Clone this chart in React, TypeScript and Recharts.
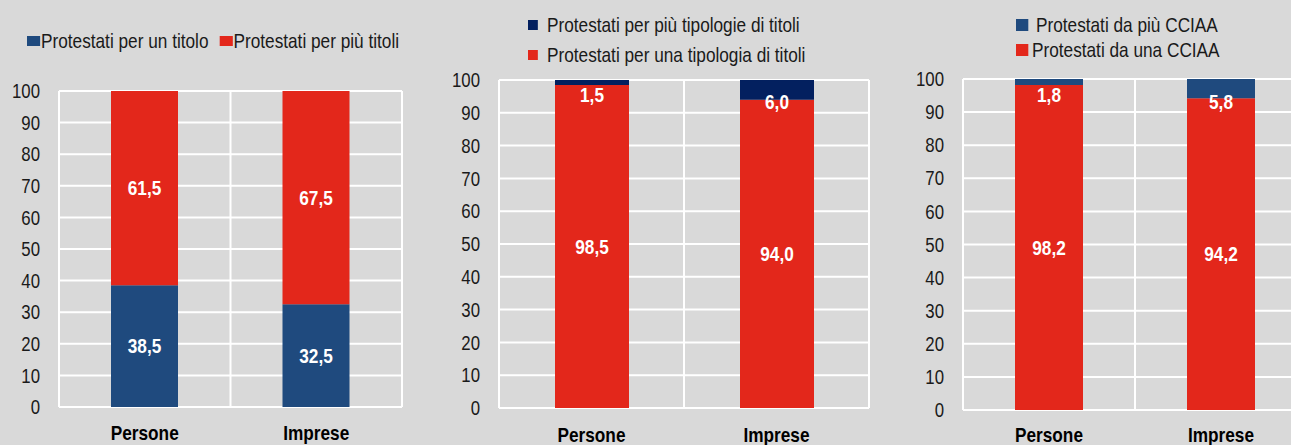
import { Bar, BarChart, CartesianGrid, LabelList, XAxis, YAxis } from "recharts";

const categories = ["Persone", "Imprese"];
const yTicks = [0, 10, 20, 30, 40, 50, 60, 70, 80, 90, 100];

// pannello 1: numero di titoli
const perUnTitolo = [38.5, 32.5];
const perPiuTitoli = [61.5, 67.5];
// pannello 2: tipologie di titoli
const perUnaTipologia = [98.5, 94.0];
const perPiuTipologie = [1.5, 6.0];
// pannello 3: camere di commercio
const daUnaCciaa = [98.2, 94.2];
const daPiuCciaa = [1.8, 5.8];

// niente Arial Narrow: Liberation Sans stretta in orizzontale
const FONT = "'Liberation Sans', Arial, sans-serif";
const NARROW = 0.82;
const RED = "#e3271b";
const BLUE = "#1f4a7e";
const NAVY = "#03205f";
const BG = "#d9d9d9";
const INK = "#1a1a1a";

const fmt = (v: number) => v.toFixed(1).replace(".", ",");

type Series = { key: string; name: string; color: string; values: number[]; shift: number };

function valueLabel(shift: number) {
  return (p: any) => {
    const { x, y, width, height, value } = p;
    const cx = Number(x) + Number(width) / 2;
    const cy = Number(y) + Number(height) / 2 + shift;
    return (
      <g transform={`translate(${cx},${cy}) scale(${NARROW},1)`}>
        <text
          textAnchor="middle"
          dominantBaseline="central"
          fill="#fff"
          fontWeight="bold"
          fontSize={21}
          fontFamily={FONT}
        >
          {fmt(Number(value))}
        </text>
      </g>
    );
  };
}

const YTick = ({ x, y, payload }: any) => (
  <g transform={`translate(${x},${y}) scale(${NARROW},1)`}>
    <text textAnchor="end" dominantBaseline="central" fontSize={20.5} fill={INK} fontFamily={FONT}>
      {payload.value}
    </text>
  </g>
);

const XTick = ({ x, y, payload }: any) => (
  <g transform={`translate(${x},${y}) scale(${NARROW},1)`}>
    <text textAnchor="middle" dy="0.71em" fontSize={21} fontWeight="bold" fill="#000" fontFamily={FONT}>
      {payload.value}
    </text>
  </g>
);

function Panel({
  left,
  width,
  margin,
  barSize,
  xGap,
  series,
}: {
  left: number;
  width: number;
  margin: { top: number; right: number; bottom: number; left: number };
  barSize: number;
  xGap: number;
  series: Series[];
}) {
  const data = categories.map((c, i) => {
    const row: Record<string, string | number> = { name: c };
    series.forEach((s) => (row[s.key] = s.values[i]));
    return row;
  });

  return (
    <div style={{ position: "absolute", left, top: 0 }}>
      <BarChart width={width} height={445} data={data} margin={margin} barSize={barSize}>
        <CartesianGrid
          stroke="#ffffff"
          strokeWidth={2}
          verticalCoordinatesGenerator={({ offset }: any) => [
            offset.left,
            offset.left + offset.width / 2,
            offset.left + offset.width,
          ]}
        />
        <XAxis
          dataKey="name"
          axisLine={false}
          tickLine={false}
          tickSize={0}
          tickMargin={xGap}
          height={30}
          tick={<XTick />}
        />
        <YAxis
          domain={[0, 100]}
          ticks={yTicks}
          interval={0}
          axisLine={false}
          tickLine={false}
          tickSize={0}
          tickMargin={19}
          width={45}
          tick={<YTick />}
        />
        {series.map((s) => (
          <Bar key={s.key} dataKey={s.key} name={s.name} stackId="s" fill={s.color} isAnimationActive={false}>
            <LabelList dataKey={s.key} content={valueLabel(s.shift)} />
          </Bar>
        ))}
      </BarChart>
    </div>
  );
}

// le misure orizzontali sono divise per NARROW perché tutta la legenda viene compressa
function LegendItem({ color, label, box, gap }: { color: string; label: string; box: [number, number]; gap: number }) {
  return (
    <div style={{ display: "flex", alignItems: "center" }}>
      <span
        style={{
          display: "inline-block",
          width: box[0] / NARROW,
          height: box[1],
          background: color,
          marginRight: gap / NARROW,
        }}
      />
      <span>{label}</span>
    </div>
  );
}

const legendText = {
  position: "absolute" as const,
  fontFamily: FONT,
  fontSize: 21,
  color: INK,
  whiteSpace: "nowrap" as const,
  transform: `scaleX(${NARROW})`,
  transformOrigin: "left top",
};

export default function App() {
  return (
    <div
      style={{
        position: "fixed",
        left: 0,
        top: 0,
        width: 1291,
        height: 445,
        background: BG,
        overflow: "hidden",
        fontFamily: FONT,
      }}
    >
      <Panel
        left={0}
        width={430}
        margin={{ top: 91, right: 28, bottom: 8, left: 14 }}
        barSize={67}
        xGap={18}
        series={[
          { key: "un", name: "Protestati per un titolo", color: BLUE, values: perUnTitolo, shift: 0 },
          { key: "piu", name: "Protestati per più titoli", color: RED, values: perPiuTitoli, shift: 0 },
        ]}
      />
      <Panel
        left={430}
        width={440}
        margin={{ top: 80, right: 1, bottom: 7, left: 24 }}
        barSize={74}
        xGap={19}
        series={[
          { key: "una", name: "Protestati per una tipologia di titoli", color: RED, values: perUnaTipologia, shift: 0 },
          { key: "piu", name: "Protestati per più tipologie di titoli", color: NAVY, values: perPiuTipologie, shift: 12 },
        ]}
      />
      <Panel
        left={870}
        width={440}
        margin={{ top: 79, right: 3, bottom: 5, left: 48 }}
        barSize={68}
        xGap={17}
        series={[
          { key: "una", name: "Protestati da una CCIAA", color: RED, values: daUnaCciaa, shift: 0 },
          { key: "piu", name: "Protestati da più CCIAA", color: BLUE, values: daPiuCciaa, shift: 13 },
        ]}
      />

      <div style={{ ...legendText, left: 27, top: 29, lineHeight: "24px", display: "flex", gap: 11 / NARROW }}>
        <LegendItem color={BLUE} label="Protestati per un titolo" box={[13, 10]} gap={1} />
        <LegendItem color={RED} label="Protestati per più titoli" box={[13, 10]} gap={1} />
      </div>
      <div style={{ ...legendText, left: 528, top: 10, lineHeight: "30px" }}>
        <LegendItem color={NAVY} label="Protestati per più tipologie di titoli" box={[10, 10]} gap={9} />
        <LegendItem color={RED} label="Protestati per una tipologia di titoli" box={[10, 10]} gap={9} />
      </div>
      <div style={{ ...legendText, left: 1016, top: 12, lineHeight: "25px" }}>
        <LegendItem color={BLUE} label="Protestati da più CCIAA" box={[12, 12]} gap={8} />
        <LegendItem color={RED} label="Protestati da una CCIAA" box={[12, 12]} gap={4} />
      </div>
    </div>
  );
}
